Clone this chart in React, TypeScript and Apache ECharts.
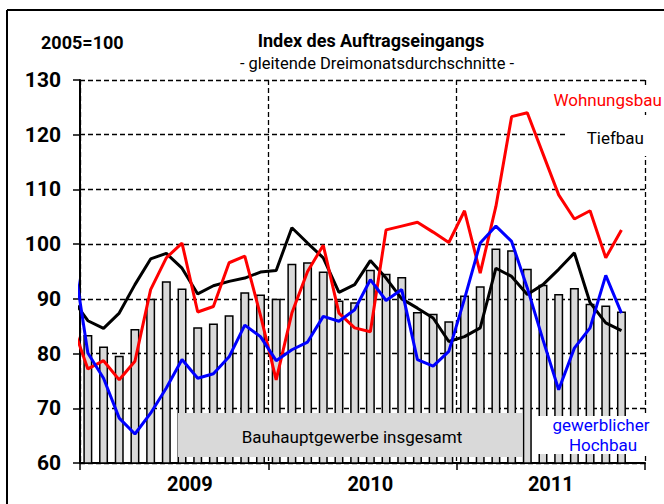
import React, { useEffect, useRef } from "react";
import * as echarts from "echarts";

// Jan 2009 .. Nov 2011 (35 months); first value of each line = Dec 2008 (clipped at left edge)
const monthsCount = 35;
const yearLabels = ["2009", "2010", "2011"];
const yTicks = [60, 70, 80, 90, 100, 110, 120, 130];

const insgesamt = [83.4, 81.3, 79.6, 84.5, 90.0, 93.2, 91.9, 84.8, 85.5, 87.0, 91.2, 90.8, 90.0, 96.4, 96.7, 95.0, 89.7, 89.4, 95.3, 94.6, 94.0, 87.6, 87.3, 85.9, 90.6, 92.3, 99.2, 98.9, 95.5, 92.6, 90.9, 92.0, 89.1, 88.8, 87.7];
const wohnungsbau = [85.4, 77.2, 78.7, 75.2, 78.6, 91.7, 97.5, 100.2, 87.6, 88.6, 96.6, 97.8, 87.0, 75.2, 87.4, 95.0, 99.8, 87.4, 84.7, 84.0, 102.6, 103.3, 104.0, 102.2, 100.3, 106.1, 94.7, 106.9, 123.3, 124.0, 116.5, 109.0, 104.6, 106.1, 97.5, 102.6];
const tiefbau = [90.0, 86.0, 84.6, 87.4, 92.6, 97.3, 98.3, 95.6, 90.9, 92.4, 93.2, 93.8, 94.9, 95.2, 103.0, 100.2, 97.5, 91.2, 92.6, 97.0, 93.8, 90.0, 88.3, 86.5, 82.2, 83.1, 84.7, 95.6, 94.1, 90.8, 92.6, 95.4, 98.4, 89.3, 85.6, 84.2];
const hochbau = [99.0, 80.1, 75.5, 68.2, 65.3, 69.1, 73.7, 78.9, 75.5, 76.3, 79.4, 85.2, 83.1, 78.7, 80.7, 82.1, 86.8, 85.9, 88.0, 93.5, 89.7, 91.7, 78.9, 77.7, 80.4, 90.0, 100.2, 103.3, 100.5, 92.0, 82.5, 73.4, 81.0, 84.7, 94.3, 87.4];

const FONT = "Roboto";

export default function App() {
  const ref = useRef<HTMLDivElement>(null);
  useEffect(() => {
    if (!ref.current) return;
    const chart = echarts.init(ref.current, undefined, { renderer: "svg" });
    const barData = insgesamt.map((v, i) => [i + 0.5, v]);
    const lineData = (arr: number[]) => arr.map((v, i) => [i - 0.5, v]);
    const yearPos = [7, 18.5, 30];
    const dashed = { color: "#000", width: 1.3, type: [5, 3] as any };
    chart.setOption({
      animation: false,
      backgroundColor: "#fff",
      grid: { left: 80, right: 19, top: 80, bottom: 41, containLabel: false },
      xAxis: [
        {
          type: "value",
          min: 0,
          max: 36,
          interval: 12,
          axisLine: { show: true, onZero: false, lineStyle: { color: "#000", width: 2 } },
          axisTick: { show: true, length: 7, inside: false, lineStyle: { color: "#000", width: 1.5 } },
          axisLabel: { show: false },
          splitLine: { show: true, lineStyle: dashed },
        },
        {
          type: "value",
          min: 0,
          max: 36,
          interval: 0.5,
          position: "bottom",
          axisLine: { show: false },
          axisTick: { show: false },
          splitLine: { show: false },
          axisLabel: {
            show: true,
            margin: 11,
            color: "#000",
            fontFamily: FONT,
            fontWeight: "bold",
            fontSize: 20,
            formatter: (v: number) => {
              for (let k = 0; k < yearPos.length; k++) if (Math.abs(v - yearPos[k]) < 0.01) return yearLabels[k];
              return "";
            },
          },
        },
      ],
      yAxis: {
        type: "value",
        min: yTicks[0],
        max: yTicks[yTicks.length - 1],
        interval: 10,
        axisLine: { show: true, lineStyle: { color: "#000", width: 2 } },
        axisTick: { show: true, length: 7, lineStyle: { color: "#000", width: 1.5 } },
        axisLabel: { color: "#000", fontFamily: FONT, fontWeight: "bold", fontSize: 21, margin: 19 },
        splitLine: { show: true, lineStyle: dashed },
      },
      series: [
        {
          type: "bar",
          xAxisIndex: 0,
          data: barData.slice(0, monthsCount),
          barWidth: 9,
          itemStyle: { color: "#d9d9d9", borderColor: "#000", borderWidth: 1.5 },
          z: 2,
        },
        { type: "line", xAxisIndex: 0, data: lineData(tiefbau), showSymbol: false, symbol: "none", lineStyle: { color: "#000", width: 3 }, z: 3 },
        { type: "line", xAxisIndex: 0, data: lineData(wohnungsbau), showSymbol: false, symbol: "none", lineStyle: { color: "#ff0000", width: 3 }, z: 4 },
        { type: "line", xAxisIndex: 0, data: lineData(hochbau), showSymbol: false, symbol: "none", lineStyle: { color: "#0000ff", width: 3 }, z: 5 },
      ],
      graphic: [
        { type: "line", z: 100, shape: { x1: 7, y1: 10, x2: 7, y2: 504 }, style: { stroke: "#000", lineWidth: 2 } },
        { type: "line", z: 100, shape: { x1: 7, y1: 10, x2: 664, y2: 10 }, style: { stroke: "#000", lineWidth: 2 } },
        { type: "rect", z: 100, shape: { x: 178, y: 413, width: 344, height: 44 }, style: { fill: "#d9d9d9" } },
        { type: "rect", z: 100, shape: { x: 552, y: 86, width: 112, height: 25 }, style: { fill: "#fff" } },
        { type: "rect", z: 100, shape: { x: 568, y: 115, width: 82, height: 41 }, style: { fill: "#fff" } },
        { type: "rect", z: 100, shape: { x: 532, y: 416, width: 118, height: 38 }, style: { fill: "#fff" } },
        { type: "text", z: 101, style: { text: "2005=100", x: 41, y: 42, fill: "#000", fontFamily: FONT, fontWeight: "bold", fontSize: 18, textAlign: "left", textVerticalAlign: "middle" } },
        { type: "text", z: 101, style: { text: "Index des Auftragseingangs", x: 371, y: 40, fill: "#000", fontFamily: FONT, fontWeight: "bold", fontSize: 18, textAlign: "center", textVerticalAlign: "middle" } },
        { type: "text", z: 101, style: { text: "- gleitende Dreimonatsdurchschnitte -", x: 377, y: 63, fill: "#000", fontFamily: FONT, fontSize: 16.5, textAlign: "center", textVerticalAlign: "middle" } },
        { type: "text", z: 101, style: { text: "Wohnungsbau", x: 662, y: 100, fill: "#ff0000", fontFamily: FONT, fontSize: 17, textAlign: "right", textVerticalAlign: "middle" } },
        { type: "text", z: 101, style: { text: "Tiefbau", x: 644, y: 138, fill: "#000", fontFamily: FONT, fontSize: 17, textAlign: "right", textVerticalAlign: "middle" } },
        { type: "text", z: 101, style: { text: "gewerblicher", x: 601, y: 425, fill: "#0000ff", fontFamily: FONT, fontSize: 17, textAlign: "center", textVerticalAlign: "middle" } },
        { type: "text", z: 101, style: { text: "Hochbau", x: 603, y: 445, fill: "#0000ff", fontFamily: FONT, fontSize: 17, textAlign: "center", textVerticalAlign: "middle" } },
        { type: "text", z: 101, style: { text: "Bauhauptgewerbe insgesamt", x: 352, y: 437, fill: "#000", fontFamily: FONT, fontSize: 17, textAlign: "center", textVerticalAlign: "middle" } },
      ],
    });
    return () => chart.dispose();
  }, []);
  return <div ref={ref} style={{ position: "fixed", left: 0, top: 0, width: 664, height: 504 }} />;
}
